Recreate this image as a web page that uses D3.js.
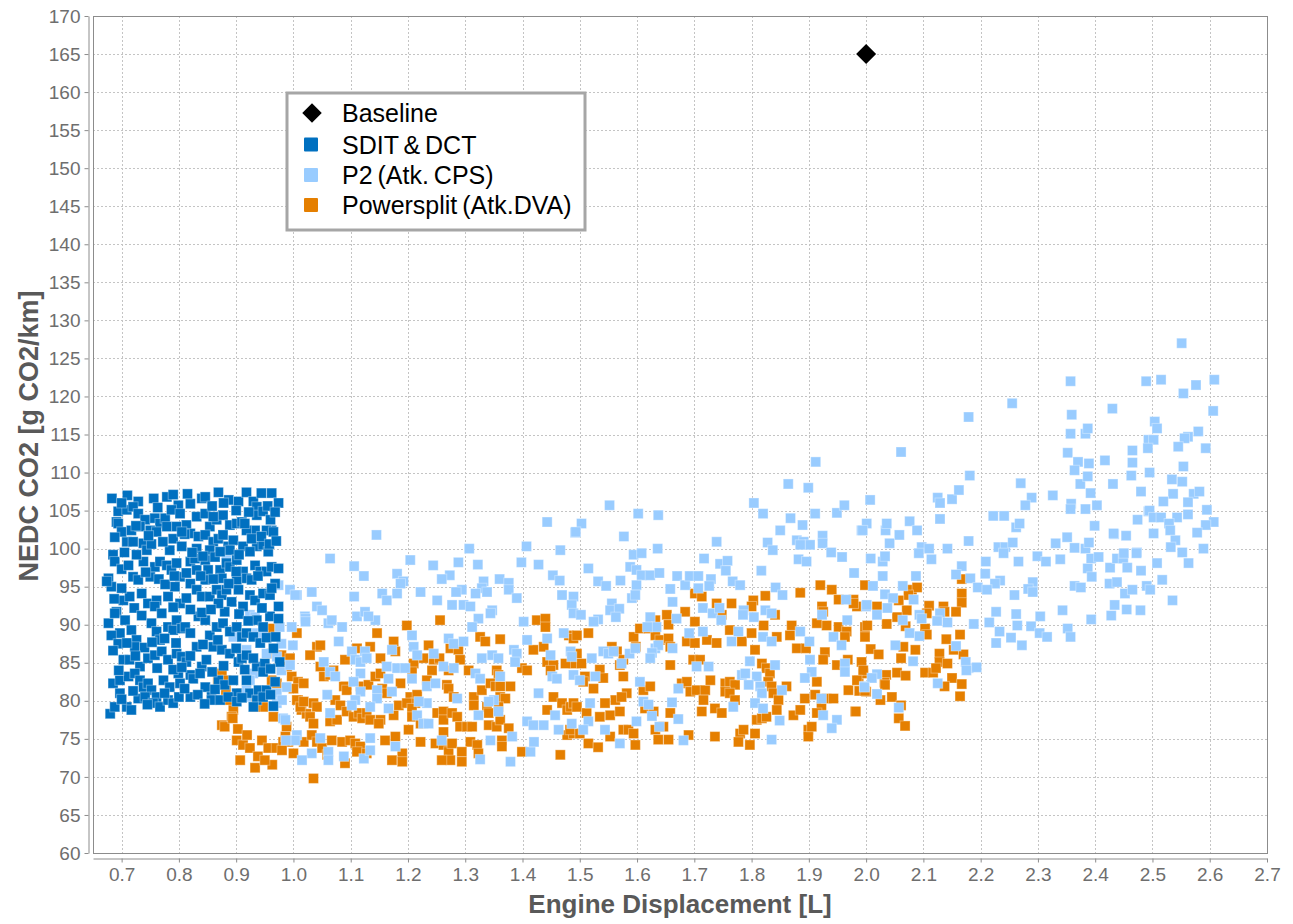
<!DOCTYPE html>
<html>
<head>
<meta charset="utf-8">
<script src="https://cdn.jsdelivr.net/npm/d3@7"></script>
<style>
  body { margin: 0; background: #fff; }
  text { font-family: "Liberation Sans", Arial, sans-serif; }
</style>
</head>
<body>
<svg id="chart" width="1293" height="924"></svg>
<script>
// Axis ticks
const xTicks = [0.7, 0.8, 0.9, 1.0, 1.1, 1.2, 1.3, 1.4, 1.5, 1.6, 1.7, 1.8, 1.9, 2.0, 2.1, 2.2, 2.3, 2.4, 2.5, 2.6, 2.7];
const yTicks = [60, 65, 70, 75, 80, 85, 90, 95, 100, 105, 110, 115, 120, 125, 130, 135, 140, 145, 150, 155, 160, 165, 170];

// Series names (legend order)
const seriesNames = ["Baseline", "SDIT & DCT", "P2 (Atk. CPS)", "Powersplit (Atk.DVA)"];

// [displacement L, NEDC CO2 g/km]
const baseline = [[2.0, 165]];

const sditDct = [
[0.683,106.6],[0.729,106.2],[0.756,106.6],[0.779,106.8],[0.799,105.7],[0.82,105.9],[0.84,106.6],[0.846,106.8],[0.869,107.4],[0.887,106.4],[0.904,106.2],[0.918,107.4],[0.93,106.2],[0.944,107.3],[0.962,107.3],[0.974,106.0],[0.936,105.5],
[0.694,104.9],[0.691,103.5],[0.709,105.1],[0.72,105.5],[0.729,104.6],[0.741,103.8],[0.758,104.0],[0.767,103.3],[0.776,104.0],[0.787,105.1],[0.802,104.6],[0.813,103.1],[0.831,104.2],[0.846,104.6],[0.854,102.9],[0.866,103.8],[0.877,104.4],[0.889,103.1],[0.901,103.3],[0.91,103.5],[0.936,104.4],[0.947,104.9],[0.962,102.4],[0.933,102.4],[0.953,102.4],
[0.694,103.3],[0.709,100.9],[0.72,100.9],[0.738,100.7],[0.744,99.8],[0.7,102.2],[0.717,102.4],[0.732,102.9],[0.75,102.4],[0.761,102.2],[0.779,102.9],[0.796,102.9],[0.79,101.3],[0.805,100.3],[0.784,99.8],[0.82,102.0],[0.834,101.6],[0.846,101.8],[0.86,100.9],[0.869,101.3],[0.877,101.8],[0.886,100.3],[0.895,101.1],[0.912,100.3],[0.918,102.4],[0.915,103.3],[0.936,100.3],[0.947,100.5],[0.956,99.6],[0.965,102.2],[0.889,99.8],[0.854,99.8],[0.831,100.0],
[0.685,99.2],[0.688,98.3],[0.677,96.1],[0.682,95.0],[0.72,96.3],[0.729,95.9],[0.738,98.3],[0.75,96.3],[0.758,97.6],[0.767,98.3],[0.779,97.8],[0.787,97.2],[0.796,98.1],[0.802,96.3],[0.813,96.8],[0.82,98.3],[0.828,98.7],[0.831,97.2],[0.846,98.5],[0.851,97.2],[0.863,98.9],[0.872,97.2],[0.883,98.1],[0.889,97.6],[0.901,98.5],[0.912,97.0],[0.918,96.1],[0.933,97.8],[0.942,97.0],[0.953,97.0],[0.962,97.6],[0.974,97.4],[0.927,95.9],[0.901,95.9],[0.875,96.1],[0.846,95.9],
[0.674,95.7],[0.691,91.7],[0.703,93.2],[0.714,93.7],[0.735,94.1],[0.746,92.8],[0.761,93.2],[0.758,92.4],[0.77,91.5],[0.781,93.7],[0.793,95.0],[0.802,92.8],[0.813,93.5],[0.82,95.4],[0.831,94.6],[0.84,93.7],[0.854,93.7],[0.866,94.6],[0.875,93.9],[0.883,94.6],[0.892,93.0],[0.904,94.6],[0.912,92.4],[0.924,93.9],[0.933,93.2],[0.947,94.1],[0.959,93.9],[0.974,92.4],[0.88,91.7],[0.869,92.8],
[0.677,90.2],[0.688,91.5],[0.706,90.6],[0.717,89.3],[0.697,88.9],[0.726,88.0],[0.752,90.2],[0.761,89.1],[0.767,88.0],[0.781,89.7],[0.79,89.3],[0.796,90.6],[0.805,89.5],[0.811,89.7],[0.82,88.9],[0.834,91.1],[0.846,90.6],[0.854,88.6],[0.866,89.7],[0.877,90.2],[0.889,89.1],[0.901,89.7],[0.91,88.4],[0.918,88.9],[0.936,90.6],[0.947,89.7],[0.959,91.1],[0.974,90.8],[0.93,88.4],
[0.682,88.6],[0.694,87.5],[0.703,85.4],[0.714,85.4],[0.723,87.1],[0.732,84.5],[0.746,85.6],[0.758,86.0],[0.77,86.5],[0.781,85.4],[0.796,86.2],[0.805,85.8],[0.813,85.1],[0.831,87.1],[0.84,84.5],[0.848,85.4],[0.86,87.1],[0.875,86.7],[0.889,86.2],[0.904,85.1],[0.91,85.6],[0.918,86.0],[0.936,84.5],[0.95,84.9],[0.965,86.9],[0.976,85.1],
[0.685,82.3],[0.697,82.7],[0.712,83.2],[0.723,83.6],[0.732,82.7],[0.738,81.8],[0.746,82.3],[0.752,81.4],[0.761,80.5],[0.773,82.7],[0.784,81.8],[0.799,83.6],[0.802,82.3],[0.82,83.4],[0.825,82.9],[0.837,83.6],[0.846,81.8],[0.857,80.5],[0.869,82.7],[0.88,82.1],[0.895,82.7],[0.901,81.0],[0.918,82.7],[0.924,81.0],[0.939,81.4],[0.947,83.8],[0.953,81.4],[0.968,82.5],
[0.68,78.3],[0.688,79.2],[0.697,81.0],[0.709,79.2],[0.717,78.8],[0.729,80.3],[0.741,80.5],[0.755,79.7],[0.767,79.2],[0.781,80.1],[0.79,79.7],[0.82,80.5],[0.857,80.1],[0.872,80.1],[0.886,80.5],[0.901,79.9],[0.936,80.1],[0.947,80.5],
[0.688,101.5],[0.705,99.5],[0.726,99.2],[0.752,100.6],[0.772,100.9],[0.81,101.9],[0.823,99.5],[0.842,99.0],[0.872,99.6],[0.905,99.2],[0.924,99.6],[0.927,101.3],[0.944,101.6],[0.958,100.6],[0.97,101.0],
[0.7,97.3],[0.712,97.8],[0.742,96.9],[0.765,96.0],[0.776,95.3],[0.792,96.4],[0.838,96.4],[0.86,96.0],[0.887,95.4],[0.9,97.0],[0.938,96.4],[0.968,95.4],
[0.687,93.4],[0.7,94.8],[0.722,92.2],[0.735,91.2],[0.79,92.3],[0.82,92.0],[0.84,91.6],[0.856,92.0],[0.905,91.4],[0.921,90.5],[0.945,92.2],[0.962,94.8],
[0.685,86.6],[0.709,87.6],[0.74,87.0],[0.753,87.7],[0.775,88.2],[0.795,87.6],[0.842,87.4],[0.868,88.0],[0.9,86.9],[0.942,87.6],[0.953,88.3],[0.969,88.4],
[0.695,84.0],[0.724,85.9],[0.762,84.3],[0.79,84.1],[0.805,84.4],[0.82,85.9],[0.858,83.8],[0.878,84.6],[0.915,84.1],[0.93,85.6],[0.96,84.2],
[0.7,80.2],[0.72,81.3],[0.745,79.5],[0.775,81.0],[0.8,80.5],[0.81,81.6],[0.833,80.8],[0.845,79.6],[0.863,81.5],[0.91,80.4],[0.93,79.2],[0.96,80.8],[0.965,79.3],
[0.71,107.0],[0.763,105.4],[0.79,107.1],[0.815,107.2],[0.858,105.6],[0.878,106.0],[0.9,105.0],[0.922,104.8],[0.955,105.6],
[0.7,106.0],[0.725,103.0],[0.747,101.7],[0.805,102.2],[0.86,104.2],[0.96,103.8],[0.968,104.8]
];

const p2 = [
[0.883,98.5],[0.974,95.2],[0.994,94.6],[1.006,93.9],[1.02,91.1],[0.976,89.7],[0.997,89.7],[0.924,91.3],[0.933,91.0],[0.979,87.5],[0.999,87.3],[0.895,88.4],[0.936,88.9],[0.947,88.6],[0.918,86.7],[0.953,86.2],[0.971,85.8],[0.979,84.0],[0.994,84.7],[0.988,81.8],[0.971,81.0],[0.93,83.6],[0.924,82.7],[0.918,80.5],[0.971,79.7],[0.982,77.7],[0.918,81.4],
[1.145,101.8],[1.443,103.5],[1.492,102.1],[1.064,98.7],[1.407,100.3],[1.466,99.8],[1.307,100.0],[1.204,98.5],[1.106,97.7],[1.244,97.8],[1.288,98.2],[1.322,97.9],[1.398,98.2],[1.428,97.9],
[1.123,96.4],[1.181,96.7],[1.192,95.7],[1.187,95.4],[1.181,94.1],[1.273,96.5],[1.259,96.0],[1.294,94.6],[1.284,94.3],[1.332,95.7],[1.329,94.8],[1.338,94.3],[1.318,94.1],[1.36,96.0],[1.376,95.5],[1.376,94.6],[1.39,93.5],[1.453,96.5],[1.465,95.8],[1.469,93.9],[1.489,93.7],[1.486,92.6],[1.032,94.3],[1.003,93.9],[1.041,92.4],[1.05,91.9],[1.106,93.7],[1.155,94.1],[1.163,93.2],[1.222,94.3],[1.251,93.2],[1.277,92.6],[1.297,92.6],[1.309,92.4],[1.347,91.9],[1.344,91.5],[1.323,90.8],[1.111,91.1],[1.125,91.7],[1.143,90.6],[1.131,91.1],[1.021,90.8],[1.021,90.4],[1.061,90.2],[1.067,90.6],[1.085,89.7],
[1.402,90.4],[1.472,88.9],[1.489,91.5],[1.312,89.7],[1.207,88.6],[1.271,88.2],[1.28,87.5],[1.297,87.8],[1.408,88.0],[1.443,88.2],[1.079,87.8],
[1.102,86.5],[1.108,85.4],[1.117,85.1],[1.125,86.5],[1.128,85.6],[1.163,84.5],[1.181,84.3],[1.195,84.3],[1.172,86.7],[1.21,87.1],[1.216,86.0],[1.245,86.2],[1.262,84.5],[1.28,84.3],[1.329,85.6],[1.347,86.0],[1.358,85.6],[1.385,86.7],[1.39,86.2],[1.387,85.1],[1.449,86.0],[1.484,86.5],[1.486,85.8],[1.053,85.1],[1.064,83.8],[1.073,83.2],[1.117,83.6],[1.105,82.5],[1.146,81.4],[1.166,82.9],[1.207,82.9],[1.233,81.9],[1.248,82.3],[1.318,83.6],[1.326,82.9],[1.361,83.2],[1.452,83.2],[1.46,82.9],[1.489,83.4],[1.428,81.0],[1.35,80.1],[1.341,79.9],[1.286,80.3],[1.233,79.7],[1.219,79.9],[1.172,81.2],[1.146,80.3],[1.117,81.2],[1.108,80.1],[1.102,79.4],[1.059,80.8],[0.98,80.1],[0.986,77.5],[1.064,78.4],[1.134,79.2],[1.166,79.0],[1.216,78.1],[1.227,77.0],[1.236,77.0],[1.323,78.1],[1.358,78.6],[1.408,77.3],[1.419,76.8],[1.437,76.8],[1.457,78.1],[1.463,76.2],[1.486,77.0],[1.006,75.5],[1.003,74.8],[0.987,74.8],[1.047,75.1],[1.134,75.1],[1.178,74.0],[1.259,74.8],[1.344,74.8],[1.382,75.3],[1.414,73.3],[1.42,74.6],[1.032,73.1],[1.015,72.2],[1.061,73.3],[1.061,72.2],[1.088,72.7],[1.123,72.4],[1.134,73.5],[1.326,72.3],[1.379,72.0],
[1.552,105.7],[1.602,104.6],[1.637,104.4],[1.503,103.3],[1.493,102.2],[1.577,101.6],[1.636,100.0],[1.594,99.2],[1.608,99.4],[1.588,97.6],[1.599,97.2],[1.608,96.5],[1.623,96.5],[1.639,96.8],[1.515,97.4],[1.739,100.9],[1.717,98.7],[1.745,98.0],[1.758,98.4],[1.755,97.1],[1.82,104.6],[1.804,106.0],[1.868,104.0],[1.889,103.1],[1.85,102.4],[1.879,101.1],[1.891,100.9],[1.902,100.5],[1.885,100.5],[1.828,100.8],[1.837,99.8],[1.924,101.7],[1.924,100.7],[1.911,104.6],[1.949,104.7],[1.962,105.7],[1.939,99.5],[1.958,98.9],[1.882,98.6],[1.896,98.3],[1.817,97.1],[1.979,96.8],[1.992,102.4],[2.001,103.3],
[1.532,95.7],[1.546,95.1],[1.571,95.8],[1.599,95.2],[1.591,93.5],[1.597,93.9],[1.658,94.7],[1.662,93.0],[1.67,96.4],[1.684,95.2],[1.692,96.4],[1.707,96.4],[1.707,94.8],[1.729,96.0],[1.726,95.1],[1.767,95.7],[1.78,95.2],[1.842,94.9],[1.854,93.9],[1.556,92.8],[1.553,91.9],[1.569,92.1],[1.563,91.0],[1.502,91.3],[1.532,90.7],[1.524,90.4],[1.623,91.0],[1.634,89.7],[1.618,89.7],[1.669,90.8],[1.715,92.2],[1.732,91.5],[1.744,92.2],[1.747,90.6],[1.786,91.9],[1.785,91.3],[1.804,91.0],[1.824,91.9],[1.835,91.5],[1.923,91.3],[1.965,93.3],[1.967,90.6],[2.0,92.4],
[1.691,88.9],[1.715,89.1],[1.765,87.8],[1.777,89.1],[1.82,88.4],[1.835,87.8],[1.885,89.1],[1.901,87.8],[1.943,88.4],[1.957,87.3],[1.541,86.5],[1.55,86.2],[1.559,86.5],[1.587,86.2],[1.597,86.9],[1.632,86.9],[1.637,87.3],[1.626,86.3],[1.662,86.9],[1.623,85.6],[1.521,85.6],[1.573,84.9],[1.704,84.5],[1.725,84.5],[1.797,85.2],[1.841,84.7],[1.902,85.4],[1.905,83.8],[1.893,83.0],[1.963,84.9],[1.963,83.8],[1.997,81.9],[1.783,83.4],[1.789,83.6],[1.809,83.2],[1.795,82.1],[1.815,81.9],[1.818,81.0],[1.853,81.4],[1.922,80.3],[1.672,81.6],[1.661,79.8],[1.605,82.5],[1.5,82.7],[1.527,83.2],[1.611,79.9],[1.62,79.5],[1.626,78.0],[1.518,79.7],[1.768,79.2],[1.806,79.7],[1.82,79.0],[1.672,77.6],[1.599,77.3],[1.639,76.6],[1.515,77.3],[1.506,76.2],[1.544,76.2],[1.849,77.4],[1.925,78.1],[1.949,77.5],[1.94,76.4],[1.57,74.4],[1.681,74.8],[1.835,74.9],
[1.912,111.4],[1.864,108.5],[1.899,108.0],[2.007,106.4],
[2.125,106.7],[2.129,106.0],[2.15,106.5],[2.162,107.7],[2.129,103.9],[2.27,108.6],[2.289,106.7],[2.278,105.7],[2.326,107.0],[2.374,108.5],[2.392,107.3],[2.358,105.9],[2.357,105.2],[2.383,105.2],[2.403,105.7],[2.431,108.5],[2.48,107.5],[2.222,104.3],[2.241,104.3],[2.262,102.8],[2.268,103.3],[2.399,103.0],[2.474,103.8],[2.493,104.9],[1.994,102.4],[2.034,102.4],[2.036,103.3],[2.076,103.6],[2.089,102.4],[2.058,101.8],[2.041,100.7],[2.179,101.0],[2.097,100.2],[2.11,100.0],[2.092,99.4],[2.114,98.6],[2.142,100.0],[2.231,100.2],[2.243,100.2],[2.24,99.4],[2.256,100.8],[2.331,100.7],[2.351,101.5],[2.364,100.1],[2.383,100.0],[2.389,100.8],[2.433,101.9],[2.454,101.7],
[2.008,98.7],[2.029,98.3],[2.033,99.0],[2.209,98.3],[2.266,98.3],[2.299,99.0],[2.314,98.3],[2.339,98.6],[2.393,98.7],[2.406,98.9],[2.387,97.4],[2.394,96.3],[2.426,97.5],[2.438,98.7],[2.449,98.7],[2.456,97.5],[2.48,97.1],[2.473,99.5],[2.029,96.4],[2.087,96.4],[2.167,97.7],[2.157,96.6],[2.182,96.1],[2.208,96.7],[2.234,95.8],[2.225,95.4],[2.195,94.9],[2.211,94.6],[2.291,95.6],[2.283,94.7],[2.291,94.3],[2.364,95.1],[2.375,94.9],[2.425,95.4],[2.438,95.6],[2.452,94.1],[2.465,94.6],[2.49,95.1],[2.259,93.9],[2.434,92.6],[2.227,91.7],[2.262,91.4],[2.304,91.1],[2.343,91.9],[2.393,90.7],[2.428,91.2],[2.455,92.0],[2.188,90.1],[2.215,90.3],[2.264,89.9],[2.288,89.8],[2.303,88.9],[2.316,88.4],[2.352,89.5],[2.357,88.4],[2.233,89.1],[2.253,88.3],[2.227,87.6],[2.272,87.3],[2.179,84.3],[2.193,84.4],[2.174,85.1],
[2.012,95.1],[2.064,95.1],[2.033,94.0],[2.047,93.5],[2.083,93.3],[2.001,92.6],[2.019,91.3],[2.037,92.2],[2.064,90.6],[2.093,91.3],[2.097,90.8],[2.129,91.5],[2.124,90.5],[2.142,90.3],[2.076,88.9],[2.093,88.5],[2.051,87.3],[2.157,87.2],[2.082,85.2],[2.175,84.0],[2.019,83.5],[2.01,83.0],[1.997,81.8],[2.019,80.9],[2.125,82.3],[2.057,79.1],
[2.357,122.0],[2.255,119.1],[2.179,117.3],[2.359,117.6],[2.357,115.1],[2.383,115.1],[2.387,115.8],[2.061,112.7],[2.352,112.6],[2.37,111.4],[2.389,111.2],[2.364,110.3],[2.387,109.5],[2.181,109.6],
[2.551,127.0],[2.489,122.0],[2.515,122.2],[2.576,121.5],[2.608,122.2],[2.554,120.4],[2.43,118.4],[2.606,118.1],[2.504,116.7],[2.508,115.8],[2.493,114.3],[2.502,114.3],[2.492,113.2],[2.58,115.4],[2.562,114.7],[2.556,114.5],[2.545,113.4],[2.593,113.2],[2.465,112.9],[2.417,111.6],[2.465,111.3],[2.554,110.8],[2.463,109.6],[2.495,110.0],[2.534,109.1],[2.552,108.8],[2.536,107.2],[2.572,107.2],[2.582,107.5],[2.519,106.2],[2.562,106.1],[2.495,105.0],[2.595,105.1],[2.562,104.5],[2.502,104.1],[2.515,104.1],[2.543,104.1],[2.607,103.5],[2.593,103.1],[2.529,103.3],[2.531,102.4],[2.432,102.0],[2.578,102.1],[2.502,102.0],[2.54,101.1],[2.532,100.2],[2.552,99.5],[2.589,100.0],[2.45,99.4],[2.472,99.4],[2.508,98.1],[2.563,98.1],
[2.517,95.9],[2.496,94.6],[2.535,93.2],[2.479,91.9]
];

const powersplit = [
[0.901,88.9],[0.959,89.5],[1.006,88.9],[0.962,86.2],[0.979,86.0],[0.994,85.6],[0.875,83.6],[0.883,82.7],[0.997,83.2],[0.962,82.7],[0.971,82.3],[1.008,82.5],[0.91,81.0],[0.924,80.5],[0.945,80.1],[0.947,79.2],[0.933,79.2],[1.008,80.1],[1.014,78.8],[0.895,78.8],[0.892,77.9],[0.875,76.8],[0.88,76.6],[0.965,77.9],[0.988,76.6],[1.023,78.3],
[0.887,80.1],[0.894,77.7],[0.901,74.8],[0.912,74.2],[0.924,73.8],[0.938,72.7],[0.945,74.8],[0.956,73.8],[0.963,71.6],[0.907,72.2],[0.933,71.2],[0.95,72.2],[0.97,73.8],[0.982,74.6],[0.903,76.3],[0.919,75.5],[0.868,82.7],[0.882,81.4],
[1.256,90.6],[1.198,89.9],[1.146,88.9],[1.041,87.1],[1.047,87.3],[1.029,86.0],[1.111,86.9],[1.134,87.1],[1.175,87.8],[1.178,86.5],[1.152,85.6],[1.09,85.4],[0.989,84.5],[1.236,87.3],[1.227,85.6],[1.245,85.4],[1.255,85.6],[1.274,86.9],[1.288,86.7],[1.291,85.4],[1.271,84.0],[1.21,84.9],[1.207,83.8],[1.242,84.0],[1.326,88.4],[1.335,87.8],[1.361,88.1],[1.306,84.0],[1.355,84.0],[1.358,83.4],[1.399,84.3],[1.408,84.0],[1.419,86.7],[1.437,87.1],[1.425,90.6],[1.44,90.8],[1.44,89.7],[1.443,85.1],[1.454,84.7],[1.449,84.0],[1.481,88.6],[1.489,88.2],[1.495,86.2],[1.489,84.9],[1.475,84.9],
[1.053,83.2],[1.064,83.4],[1.047,84.5],[1.07,84.0],[1.018,82.3],[1.0,81.6],[1.088,81.9],[1.093,81.4],[1.117,81.9],[1.131,82.1],[1.143,83.2],[1.152,83.6],[1.155,81.6],[1.163,81.0],[1.187,82.3],[1.204,80.5],[1.216,80.8],[1.213,79.7],[1.233,82.7],[1.268,82.1],[1.271,81.6],[1.28,80.5],[1.315,80.5],[1.329,81.4],[1.344,82.3],[1.353,81.9],[1.361,81.9],[1.361,80.5],[1.37,80.3],[1.379,81.9],[1.358,79.2],[1.338,79.2],[1.341,78.4],[1.454,80.5],[1.469,79.7],[1.478,78.8],[1.484,79.2],[1.489,79.7],[1.443,78.8],
[1.006,80.1],[1.012,79.2],[1.018,79.9],[1.035,79.7],[1.041,79.2],[1.073,80.1],[1.082,79.4],[1.029,77.9],[1.035,77.0],[1.064,77.3],[1.076,77.5],[1.093,78.6],[1.105,77.9],[1.114,78.4],[1.12,77.7],[1.128,78.4],[1.134,77.5],[1.152,77.5],[1.149,77.0],[1.175,78.1],[1.184,79.4],[1.198,79.7],[1.207,79.0],[1.207,77.9],[1.222,77.0],[1.251,78.4],[1.262,78.6],[1.262,77.5],[1.262,75.9],[1.277,78.4],[1.286,77.9],[1.291,76.6],[1.303,76.6],[1.312,76.6],[1.315,79.4],[1.341,76.8],[1.355,76.6],[1.361,77.5],[1.376,76.4],
[1.309,74.6],[1.321,74.2],[1.323,73.1],[1.364,74.8],[1.364,74.0],[1.399,73.3],[1.466,72.9],[1.478,75.5],[1.489,75.7],[0.986,75.3],[0.991,74.6],[0.98,73.5],[1.0,73.1],[1.018,74.6],[1.032,75.5],[1.041,74.6],[1.05,73.8],[1.059,72.9],[1.067,74.8],[1.085,74.6],[1.099,74.8],[1.108,74.4],[1.117,74.0],[1.09,71.8],[1.111,73.3],[1.128,73.1],[1.16,74.8],[1.178,75.3],[1.19,73.1],[1.172,72.2],[1.19,72.0],[1.201,76.2],[1.222,74.6],[1.248,74.4],[1.262,74.2],[1.271,73.3],[1.277,74.4],[1.274,72.2],[1.294,73.3],[1.294,72.0],[1.035,69.8],[1.259,72.2],
[1.495,88.6],[1.515,88.9],[1.503,84.9],[1.556,87.1],[1.565,86.5],[1.576,85.4],[1.57,84.7],[1.598,87.1],[1.594,88.4],[1.605,89.5],[1.62,89.5],[1.632,90.6],[1.632,88.6],[1.64,88.0],[1.652,91.3],[1.655,90.0],[1.655,88.2],[1.658,87.1],[1.658,84.7],[1.684,91.7],[1.701,90.4],[1.701,94.1],[1.713,93.7],[1.687,87.8],[1.701,87.6],[1.722,88.0],[1.739,87.6],[1.739,92.8],[1.765,92.8],[1.748,91.3],[1.762,89.3],[1.783,87.8],[1.8,88.9],[1.803,93.2],[1.8,92.4],[1.824,93.8],[1.841,91.3],[1.821,89.9],[1.806,86.7],[1.844,88.4],[1.87,89.9],[1.867,88.6],[1.885,94.2],[1.92,95.2],[1.94,94.6],[1.952,93.3],[1.923,92.4],[1.925,91.7],[1.931,89.9],[1.914,90.2],[1.952,89.7],[1.966,89.1],[1.963,88.4],[1.978,93.3],[1.984,92.4],[1.998,95.2],[1.998,89.7],[1.998,88.4],[1.879,86.9],[1.895,86.9],[1.928,86.4],
[1.509,83.2],[1.506,82.5],[1.535,84.1],[1.524,81.6],[1.541,83.0],[1.576,83.2],[1.582,81.0],[1.562,80.1],[1.573,80.5],[1.544,79.7],[1.553,78.1],[1.57,78.6],[1.535,77.9],[1.495,79.2],[1.512,78.4],[1.483,76.2],[1.5,75.7],[1.515,74.4],[1.532,73.9],[1.553,75.3],[1.576,76.2],[1.585,76.2],[1.594,75.7],[1.597,74.2],[1.611,81.4],[1.623,81.9],[1.614,79.0],[1.629,78.6],[1.632,76.2],[1.637,74.9],[1.655,74.9],[1.658,78.4],[1.646,76.6],[1.678,82.3],[1.687,82.5],[1.693,81.2],[1.698,85.4],[1.71,85.4],[1.704,81.4],[1.719,81.4],[1.716,80.1],[1.713,78.6],[1.69,75.5],[1.728,82.7],[1.736,79.0],[1.748,78.4],[1.754,82.3],[1.762,82.5],[1.771,82.1],[1.754,81.2],[1.762,81.0],[1.771,80.1],[1.736,75.3],[1.78,75.7],[1.786,76.2],[1.777,74.6],[1.797,74.2],[1.809,77.5],[1.818,77.7],[1.826,77.9],[1.806,75.7],
[1.818,84.9],[1.826,84.3],[1.832,83.6],[1.829,82.5],[1.835,81.9],[1.838,81.0],[1.847,80.1],[1.844,78.8],[1.861,81.9],[1.873,78.1],[1.885,78.8],[1.893,80.3],[1.911,80.8],[1.899,76.2],[1.899,75.3],[1.905,76.6],[1.914,82.5],[1.925,85.4],[1.922,79.2],[1.931,80.3],[1.943,80.3],[1.914,78.4],[1.949,84.7],[1.969,81.4],[1.981,78.6],[1.987,82.7],[1.995,83.6],[2.0,81.2],
[2.167,96.0],[2.167,94.1],[2.167,92.9],[2.157,91.7],[2.08,94.6],[2.089,94.9],[2.074,93.9],[2.057,93.2],[1.978,92.8],[2.019,92.4],[2.071,91.9],[2.054,91.0],[2.11,92.5],[2.106,91.5],[2.135,92.4],[2.137,91.7],[2.036,90.1],[2.002,89.9],[2.069,89.8],[2.103,89.5],[2.106,88.7],[2.164,88.7],[2.14,88.1],[2.008,86.8],[2.022,86.1],[2.065,87.1],[2.086,86.7],[2.061,85.6],[2.153,86.7],[2.17,86.1],[2.128,86.2],[2.128,85.1],[2.142,84.9],[1.968,85.4],[1.992,85.1],[1.995,84.0],[2.035,83.4],[2.032,82.4],[2.054,83.7],[2.069,83.3],[2.103,83.7],[2.117,83.7],[2.122,84.3],[2.15,83.0],[2.167,82.2],[2.137,81.9],[1.984,82.7],[1.988,81.3],[1.998,81.3],[2.033,82.1],[2.025,80.1],[2.045,80.5],[2.061,79.4],[2.164,80.6],[1.982,78.6],[2.057,77.7],[2.068,76.7]
];

const colors = { base: "#000000", sdit: "#0070C0", p2: "#99CCFF", ps: "#E57F00" };

const svg = d3.select("#chart");
const W = 1293, H = 924;
const plot = { left: 93, right: 1267, top: 16, bottom: 853 };

svg.append("rect").attr("width", W).attr("height", H).attr("fill", "#fff");

const x = d3.scaleLinear().domain([0.65, 2.7]).range([plot.left, plot.right]);
const y = d3.scaleLinear().domain([60, 170]).range([plot.bottom, plot.top]);

// Dashed grid
const grid = svg.append("g").attr("stroke", "#c4c4c4").attr("stroke-width", 1).attr("stroke-dasharray", "2,2");
grid.selectAll("line.v").data(xTicks).join("line").attr("class", "v")
  .attr("x1", d => Math.round(x(d)) + 0.5).attr("x2", d => Math.round(x(d)) + 0.5)
  .attr("y1", plot.top).attr("y2", plot.bottom);
grid.selectAll("line.h").data(yTicks).join("line").attr("class", "h")
  .attr("y1", d => Math.round(y(d)) + 0.5).attr("y2", d => Math.round(y(d)) + 0.5)
  .attr("x1", plot.left).attr("x2", plot.right);

// Plot frame
svg.append("rect")
  .attr("x", plot.left + 0.5).attr("y", plot.top + 0.5)
  .attr("width", plot.right - plot.left).attr("height", plot.bottom - plot.top)
  .attr("fill", "none").attr("stroke", "#8c8c8c").attr("stroke-width", 1);

// Axes, offset from the frame
const yAxis = svg.append("g").attr("transform", "translate(88.5,0)")
  .call(d3.axisLeft(y).tickValues(yTicks).tickSize(4).tickSizeOuter(0).tickPadding(4).tickFormat(d3.format("d")));
const xAxis = svg.append("g").attr("transform", `translate(0,${plot.bottom + 5.5})`)
  .call(d3.axisBottom(x).tickValues(xTicks).tickSize(4).tickSizeOuter(0).tickPadding(5).tickFormat(d3.format(".1f")));
[yAxis, xAxis].forEach(a => {
  a.select(".domain").attr("stroke", "#8c8c8c");
  a.selectAll(".tick line").attr("stroke", "#8c8c8c");
  a.selectAll(".tick text").attr("fill", "#6e6e6e").style("font-size", "19px")
    .style("font-family", "'Liberation Sans', Arial, sans-serif");
});

// Axis titles
svg.append("text").attr("x", 680).attr("y", 913).attr("text-anchor", "middle")
  .attr("fill", "#595959").style("font-size", "26px").style("font-weight", "bold")
  .text("Engine Displacement [L]");
svg.append("text").attr("transform", "translate(38,436) rotate(-90)").attr("text-anchor", "middle")
  .attr("fill", "#595959").style("font-size", "27px").style("font-weight", "bold")
  .text("NEDC CO2 [g CO2/km]");

// Scatter marks (orange drawn first, SDIT on top)
const S = 10;
function squares(data, color) {
  svg.append("g").selectAll("rect").data(data).join("rect")
    .attr("x", d => x(d[0]) - S / 2).attr("y", d => y(d[1]) - S / 2)
    .attr("width", S).attr("height", S)
    .attr("fill", color).attr("stroke", "rgba(255,255,255,0.35)").attr("stroke-width", 1);
}
squares(powersplit, colors.ps);
squares(p2, colors.p2);
squares(sditDct, colors.sdit);

const diamond = d3.symbol().type(d3.symbolSquare).size(200);
svg.append("g").selectAll("path").data(baseline).join("path")
  .attr("d", diamond)
  .attr("transform", d => `translate(${x(d[0])},${y(d[1])}) rotate(45)`)
  .attr("fill", colors.base);

// Legend
const lg = svg.append("g");
lg.append("rect").attr("x", 287).attr("y", 93).attr("width", 298).attr("height", 137)
  .attr("fill", "#fff").attr("stroke", "#a6a6a6").attr("stroke-width", 3);
const legendColors = [colors.base, colors.sdit, colors.p2, colors.ps];
const rowY = [113, 144.5, 175, 205];
seriesNames.forEach((name, i) => {
  const cy = rowY[i];
  if (i === 0) {
    lg.append("path").attr("d", d3.symbol().type(d3.symbolSquare).size(190))
      .attr("transform", `translate(312,${cy}) rotate(45)`).attr("fill", legendColors[i]);
  } else {
    lg.append("rect").attr("x", 304).attr("y", cy - 7).attr("width", 14).attr("height", 14)
      .attr("rx", 1).attr("fill", legendColors[i]);
  }
  lg.append("text").attr("x", 342).attr("y", cy + 9).attr("fill", "#000")
    .style("font-size", "25px").style("word-spacing", "-2px").text(name);
});
</script>
</body>
</html>
